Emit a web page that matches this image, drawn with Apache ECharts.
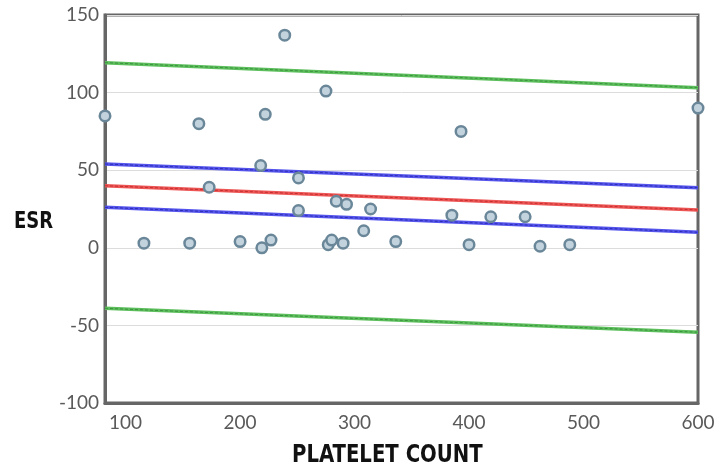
<!DOCTYPE html>
<html>
<head>
<meta charset="utf-8">
<script src="https://cdn.jsdelivr.net/npm/echarts@6/dist/echarts.min.js"></script>
<style>html,body{margin:0;padding:0;background:#fff}#c{width:714px;height:468px}</style>
</head>
<body>
<div id="c"></div>
<script>
// Scatter data (platelet count vs ESR)
var plateletCount = [82,116,156,164,173,200,218,219,222,227,239,251,251,275,277,280,284,290,293,308,314,336,385,393,400,419,449,462,488,600];
var esr = [85,3,3,80,39,4,53,0,86,5,137,45,24,101,2,5,30,3,28,11,25,4,21,75,2,20,20,1,2,90];

// Regression line and band end points (at x = lineX)
var lineX = [82, 600];
var fitLine = [40, 24.4];
var confUpper = [54, 38.7];
var confLower = [26.1, 10];
var predUpper = [119.3, 103.2];
var predLower = [-39, -54.4];

// Axis ticks
var xTicks = [100, 200, 300, 400, 500, 600];
var yMin = -100, yMax = 150, yStep = 50;

function pts(ys) { return lineX.map(function (x, i) { return [x, ys[i]]; }); }
function lineSeries(ys, base, dark) {
  return [
    {type: 'line', data: pts(ys), symbol: 'none', silent: true, z: 2,
     lineStyle: {color: base, width: 3.5}},
    {type: 'line', data: pts(ys), symbol: 'none', silent: true, z: 3,
     lineStyle: {color: dark, width: 1, type: [3, 2], opacity: 0.7}}
  ];
}

var chart = echarts.init(document.getElementById('c'), null, {renderer: 'canvas'});
var series = []
  .concat(lineSeries(predUpper, '#5cbf5c', '#2e7d32'))
  .concat(lineSeries(predLower, '#5cbf5c', '#2e7d32'))
  .concat(lineSeries(confUpper, '#5555ee', '#1a1a99'))
  .concat(lineSeries(confLower, '#5555ee', '#1a1a99'))
  .concat(lineSeries(fitLine, '#ee5555', '#b02020'));
series.push({
  type: 'scatter', z: 5,
  data: plateletCount.map(function (x, i) { return [x, esr[i]]; }),
  symbol: 'circle', symbolSize: 10.5,
  itemStyle: {color: '#c3d3de', borderColor: '#6a8799', borderWidth: 2.5, opacity: 1}
});

var titleFont = '"Liberation Sans Narrow", "DejaVu Sans Condensed", "DejaVu Sans", sans-serif';

chart.setOption({
  animation: false,
  grid: {left: 105, right: 16, top: 15, bottom: 65, outerBoundsMode: 'none', containLabel: false,
         show: true, borderColor: '#666', borderWidth: 3, backgroundColor: 'transparent'},
  xAxis: {
    type: 'value', min: lineX[0], max: lineX[1],
    axisLine: {show: true, onZero: false, lineStyle: {color: '#666', width: 3}},
    axisTick: {show: false},
    splitLine: {show: false},
    axisLabel: {customValues: xTicks, color: '#5a5a5a', fontFamily: 'Lato', fontSize: 19, margin: 10}
  },
  yAxis: {
    type: 'value', min: yMin, max: yMax, interval: yStep,
    axisLine: {show: true, onZero: false, lineStyle: {color: '#666', width: 3}},
    axisTick: {show: false},
    splitLine: {show: true, lineStyle: {color: '#dcdcdc', width: 1}},
    axisLabel: {color: '#5a5a5a', fontFamily: 'Lato', fontSize: 19, margin: 6}
  },
  graphic: [
    {type: 'text', x: 14, y: 211, scaleX: 0.87, style: {text: 'ESR', fill: '#111', font: 'bold 23px ' + titleFont, textVerticalAlign: 'top'}},
    {type: 'text', x: 292, y: 443, scaleX: 0.875, style: {text: 'PLATELET COUNT', fill: '#111', font: 'bold 25px ' + titleFont, textVerticalAlign: 'top'}}
  ],
  series: series
});
</script>
</body>
</html>
